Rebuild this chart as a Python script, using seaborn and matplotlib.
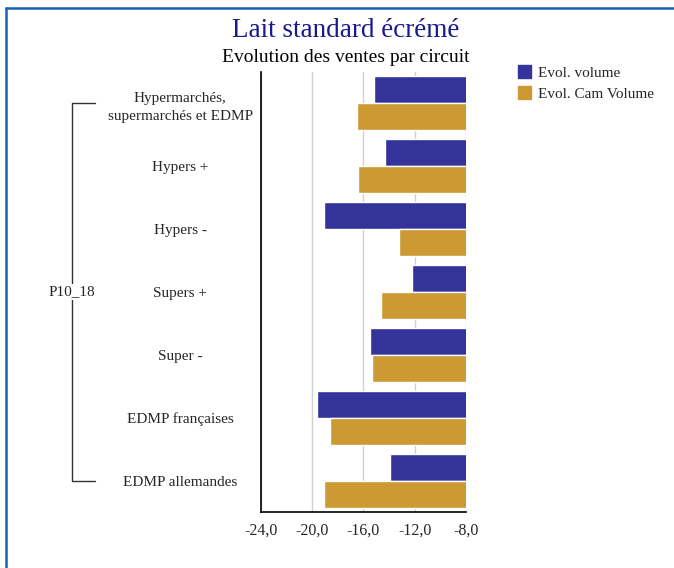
import pandas as pd
import numpy as np
import matplotlib.pyplot as plt
import matplotlib.transforms as mtransforms
from matplotlib.lines import Line2D
from matplotlib.ticker import FuncFormatter
import seaborn as sns

# data
circuits = ["Hypermarchés,\nsupermarchés et EDMP", "Hypers +", "Hypers -",
            "Supers +", "Super -", "EDMP françaises", "EDMP allemandes"]
evol_volume = [-15.2, -14.3, -19.1, -12.2, -15.5, -19.6, -13.9]
evol_cam_volume = [-16.5, -16.4, -13.2, -14.6, -15.3, -18.6, -19.1]
series = ["Evol. volume", "Evol. Cam Volume"]
colors = ["#333399", "#CC9933"]
group_label = "P10_18"
x_ticks = [-24, -20, -16, -12, -8]

df = pd.DataFrame({
    "circuit": circuits * 2,
    "valeur": evol_volume + evol_cam_volume,
    "serie": [series[0]] * len(circuits) + [series[1]] * len(circuits),
})

sns.set_style("white")
plt.rcParams['font.family'] = ['Liberation Serif', 'DejaVu Serif']

fig = plt.figure(figsize=(6.74, 5.68), dpi=100)
ax = fig.add_axes([0.3872, 0.0986, 0.3042, 0.7746])

sns.barplot(data=df, y="circuit", x="valeur", hue="serie", orient="h",
            palette=colors, saturation=1, width=0.86, edgecolor="white",
            linewidth=1, ax=ax, legend=False)

n = len(circuits)
ax.set_ylim(n - 0.5, -0.5)
ax.set_xlim(-24, -8)
ax.set_xticks(x_ticks)
ax.xaxis.set_major_formatter(FuncFormatter(lambda v, p: f"{v:.1f}".replace(".", ",")))
ax.grid(axis="x", color="#d0d0d0", linewidth=1)
ax.set_axisbelow(True)
ax.set_xlabel("")
ax.set_ylabel("")
for s in ["top", "right"]:
    ax.spines[s].set_visible(False)
for s in ["left", "bottom"]:
    ax.spines[s].set_color("black")
    ax.spines[s].set_linewidth(1.2)
ax.tick_params(axis="x", length=0, pad=8, labelsize=11.5)
ax.tick_params(axis="y", length=0, pad=58, labelsize=11)
for lab in ax.get_yticklabels():
    lab.set_horizontalalignment("center")
    lab.set_multialignment("center")
    lab.set_linespacing(1.5)

# group bracket on the left
tr = mtransforms.blended_transform_factory(ax.transAxes, ax.transData)
bx0 = (72 - 261) / 205
bx1 = (95 - 261) / 205
ax.plot([bx1, bx0, bx0, bx1], [0, 0, n - 1, n - 1],
        transform=tr, color="#333333", linewidth=1, clip_on=False)
ax.text(bx0, (n - 1) / 2, group_label, transform=tr, ha="center",
        va="center", fontsize=11,
        bbox=dict(facecolor="white", edgecolor="none", pad=1))

fig.text(0.513, 0.947, "Lait standard écrémé", ha="center", va="center",
         fontsize=19.5, color="#1a1a8c")
fig.text(0.513, 0.898, "Evolution des ventes par circuit", ha="center",
         va="center", fontsize=14, color="black")

handles = [plt.Rectangle((0, 0), 1, 1, color=c) for c in colors]
fig.legend(handles, series, loc="upper left", bbox_to_anchor=(0.760, 0.896),
           frameon=False, fontsize=11, handlelength=0.8, handleheight=0.9,
           handletextpad=0.5, labelspacing=0.4, borderaxespad=0)

# blue frame
fig.add_artist(Line2D([6 / 674, 6 / 674], [0, 1 - 8 / 568], color="#1a5fb4",
                      linewidth=1.8, transform=fig.transFigure))
fig.add_artist(Line2D([6 / 674, 1], [1 - 8 / 568, 1 - 8 / 568], color="#1a5fb4",
                      linewidth=1.8, transform=fig.transFigure))

fig.savefig("out.png", dpi=100)
